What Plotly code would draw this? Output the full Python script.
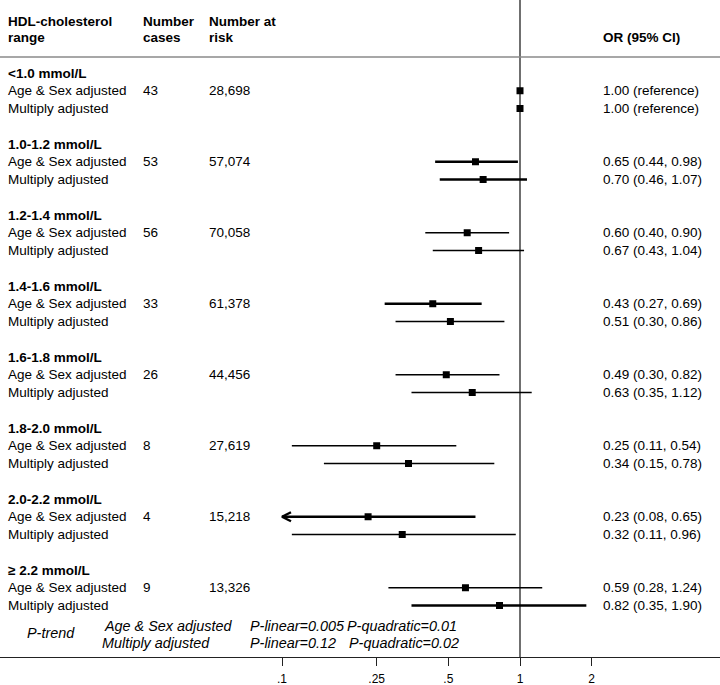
import plotly.graph_objects as go

# ---------------- data ----------------
groups = ["<1.0 mmol/L", "1.0-1.2 mmol/L", "1.2-1.4 mmol/L", "1.4-1.6 mmol/L",
          "1.6-1.8 mmol/L", "1.8-2.0 mmol/L", "2.0-2.2 mmol/L", "≥ 2.2 mmol/L"]
models = ["Age & Sex adjusted", "Multiply adjusted"]
cases = [43, 53, 56, 33, 26, 8, 4, 9]
at_risk = ["28,698", "57,074", "70,058", "61,378", "44,456", "27,619", "15,218", "13,326"]

or_age = [1.00, 0.65, 0.60, 0.43, 0.49, 0.25, 0.23, 0.59]
lo_age = [None, 0.44, 0.40, 0.27, 0.30, 0.11, 0.08, 0.28]
hi_age = [None, 0.98, 0.90, 0.69, 0.82, 0.54, 0.65, 1.24]

or_multi = [1.00, 0.70, 0.67, 0.51, 0.63, 0.34, 0.32, 0.82]
lo_multi = [None, 0.46, 0.43, 0.30, 0.35, 0.15, 0.11, 0.35]
hi_multi = [None, 1.07, 1.04, 0.86, 1.12, 0.78, 0.96, 1.90]

ptrend_models = ["Age & Sex adjusted", "Multiply adjusted"]
p_linear = ["0.005", "0.12"]
p_quadratic = ["0.01", "0.02"]

tick_vals = [0.1, 0.25, 0.5, 1, 2]
tick_text = [".1", ".25", ".5", "1", "2"]
null_value = 1
axis_min_display = 0.1  # CIs below this are clipped with an arrow

# ---------------- styles ----------------
FONT = "Liberation Sans, Arial, sans-serif"
FS = 13.5
W, H = 720, 685
PLOT_BOTTOM = 657
LINE_H = 17.75
FIRST_PX = 73
PAD = 2  # annotation inner padding correction
PX_PER_DECADE = 238.0
NULL_PX = 520
ci_width_age = [0, 2.4, 1.6, 2.4, 1.6, 1.6, 2.4, 1.6]
ci_width_multi = [0, 2.4, 1.6, 1.6, 1.6, 1.6, 1.6, 2.4]


def k_of_px(px):
    return (px - FIRST_PX) / LINE_H


def xp(px):
    return (px - PAD) / W


fig = go.Figure()
annotations = []
shapes = []


def text(x_px, k, s, bold=False, italic=False, size=FS):
    if bold:
        s = "<b>" + s + "</b>"
    if italic:
        s = "<i>" + s + "</i>"
    annotations.append(dict(x=xp(x_px), y=k, xref="paper", yref="y", text=s,
                            showarrow=False, xanchor="left", yanchor="middle",
                            font=dict(family=FONT, size=size, color="black")))


# null line at OR = 1 (drawn first, beneath the marks)
fig.add_trace(go.Scatter(x=[null_value, null_value],
                         y=[k_of_px(0), k_of_px(PLOT_BOTTOM)], mode="lines",
                         line=dict(color="#333333", width=1.4),
                         showlegend=False, hoverinfo="skip"))

# header
text(8, k_of_px(21), "HDL-cholesterol", bold=True)
text(8, k_of_px(37.5), "range", bold=True)
text(143, k_of_px(21), "Number", bold=True)
text(143, k_of_px(37.5), "cases", bold=True)
text(209, k_of_px(21), "Number at", bold=True)
text(209, k_of_px(37.5), "risk", bold=True)
text(603, k_of_px(37.5), "OR (95% CI)", bold=True)

ors = [or_age, or_multi]
los = [lo_age, lo_multi]
his = [hi_age, hi_multi]
widths = [ci_width_age, ci_width_multi]

arrow_dx = 10 ** (9 / PX_PER_DECADE)  # 9 px to the right, as a ratio
arrow_dy = 4.5 / LINE_H

for g, name in enumerate(groups):
    kh = 4 * g
    text(8, kh, name, bold=True)
    for m in range(2):
        k = kh + 1 + m
        text(8, k, models[m])
        if m == 0:
            text(143, k, str(cases[g]))
            text(209, k, at_risk[g])
        o, lo, hi = ors[m][g], los[m][g], his[m][g]
        if lo is None:
            text(603, k, f"{o:.2f} (reference)")
        else:
            text(603, k, f"{o:.2f} ({lo:.2f}, {hi:.2f})")
            lo_d = max(lo, axis_min_display)
            fig.add_trace(go.Scatter(x=[lo_d, hi], y=[k, k], mode="lines",
                                     line=dict(color="black", width=widths[m][g]),
                                     showlegend=False, hoverinfo="skip"))
            if lo < axis_min_display:
                fig.add_trace(go.Scatter(
                    x=[lo_d * arrow_dx, lo_d, lo_d * arrow_dx],
                    y=[k - arrow_dy, k, k + arrow_dy], mode="lines",
                    line=dict(color="black", width=2.4),
                    showlegend=False, hoverinfo="skip"))
        fig.add_trace(go.Scatter(x=[o], y=[k], mode="markers",
                                 marker=dict(symbol="square", size=7, color="black"),
                                 showlegend=False, hoverinfo="skip"))

# P-trend
text(27, k_of_px(632.5), "P-trend", italic=True, size=14.4)
pt_rows = [k_of_px(626), k_of_px(643)]
pt_model_x = [104, 102]
pq_x = [347, 349]
for i in range(2):
    text(pt_model_x[i], pt_rows[i], ptrend_models[i], italic=True, size=14.4)
    text(250, pt_rows[i], "P-linear=" + p_linear[i], italic=True, size=14.4)
    text(pq_x[i], pt_rows[i], "P-quadratic=" + p_quadratic[i], italic=True, size=14.4)

# header rule
shapes.append(dict(type="line", xref="paper", yref="y", x0=0, x1=1,
                   y0=k_of_px(57), y1=k_of_px(57),
                   line=dict(color="#8a8a8a", width=1.3)))

x_left = -NULL_PX / PX_PER_DECADE
x_right = (W - NULL_PX) / PX_PER_DECADE

fig.update_layout(
    width=W, height=H,
    margin=dict(l=0, r=0, t=0, b=H - PLOT_BOTTOM, pad=0, autoexpand=False),
    plot_bgcolor="white", paper_bgcolor="white",
    annotations=annotations, shapes=shapes,
    xaxis=dict(type="log", range=[x_left, x_right], tickmode="array",
               tickvals=tick_vals, ticktext=tick_text, showgrid=False,
               zeroline=False, showline=True, linecolor="#222222", linewidth=1.2,
               ticks="outside", ticklen=8, tickcolor="#222222", tickwidth=1.2,
               ticklabelstandoff=2, automargin=False,
               tickfont=dict(family=FONT, size=12, color="black")),
    yaxis=dict(range=[k_of_px(PLOT_BOTTOM), k_of_px(0)], visible=False,
               showgrid=False, zeroline=False, automargin=False),
)

fig.write_html("out.html",
               config={"displayModeBar": False},
               post_script="document.body.style.margin='0px';document.body.style.overflow='hidden';")
